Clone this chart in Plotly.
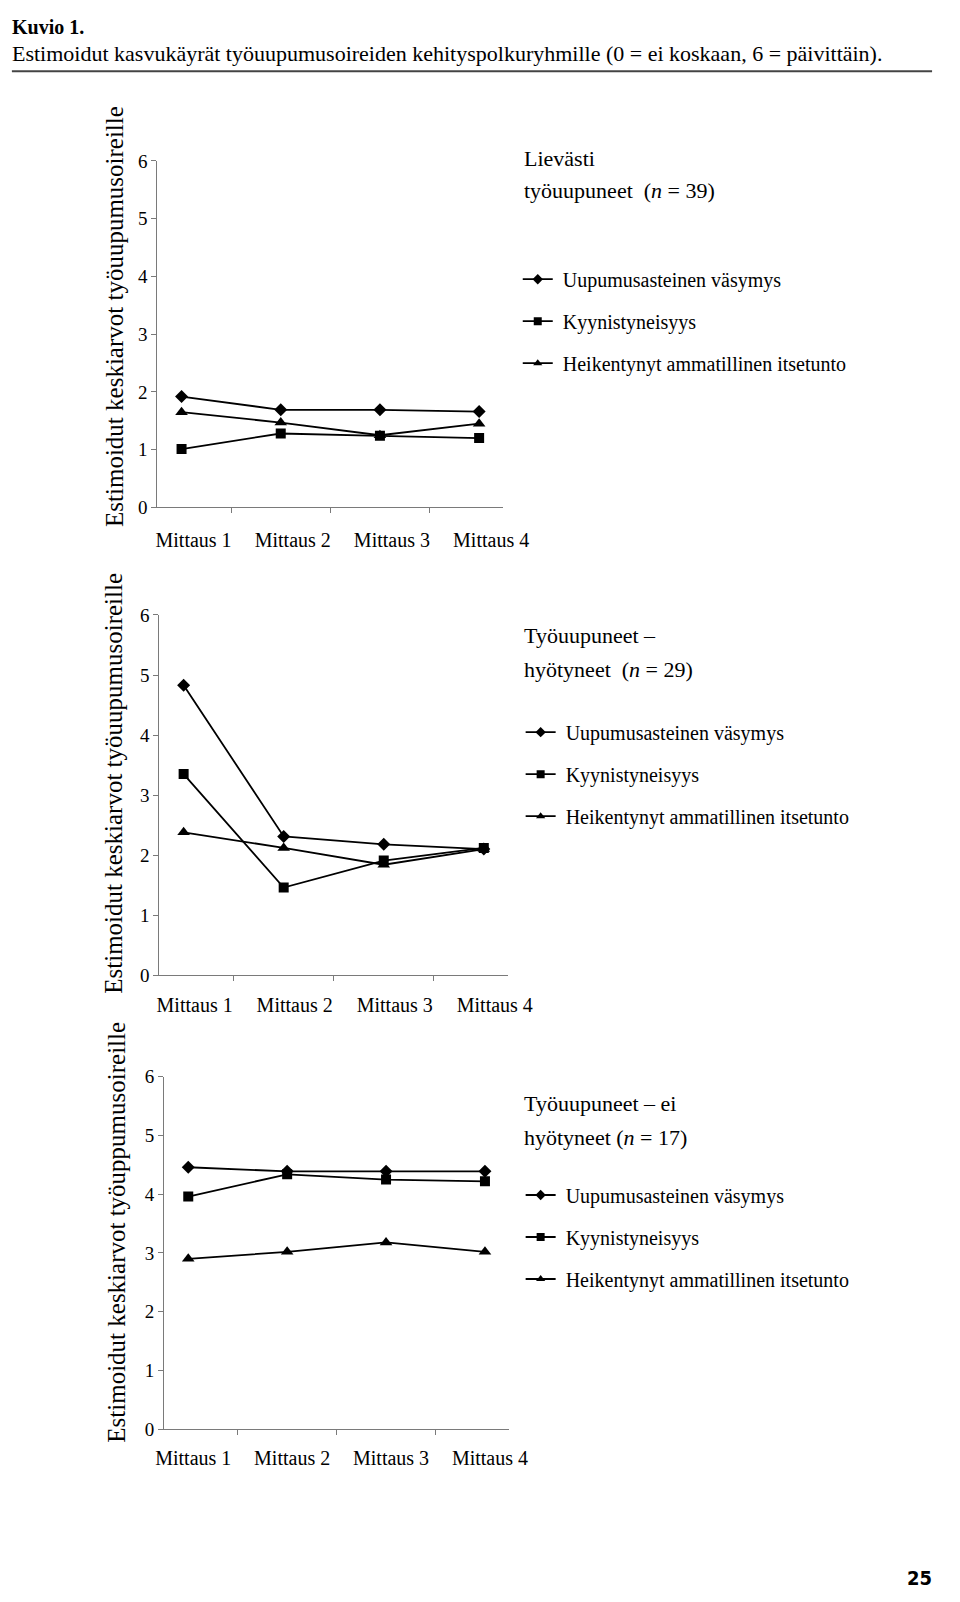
import plotly.graph_objects as go

W, H = 960, 1602

categories = ["Mittaus 1", "Mittaus 2", "Mittaus 3", "Mittaus 4"]
series_names = ["Uupumusasteinen väsymys", "Kyynistyneisyys", "Heikentynyt ammatillinen itsetunto"]

# Panel 1: Lievästi työuupuneet (n = 39)
p1_vasymys = [1.92, 1.69, 1.69, 1.66]
p1_kyyn = [1.01, 1.28, 1.24, 1.20]
p1_itsetunto = [1.65, 1.47, 1.25, 1.45]

# Panel 2: Työuupuneet – hyötyneet (n = 29)
p2_vasymys = [4.83, 2.31, 2.18, 2.10]
p2_kyyn = [3.35, 1.46, 1.91, 2.12]
p2_itsetunto = [2.38, 2.12, 1.84, 2.10]

# Panel 3: Työuupuneet – ei hyötyneet (n = 17)
p3_vasymys = [4.46, 4.39, 4.39, 4.39]
p3_kyyn = [3.96, 4.34, 4.25, 4.22]
p3_itsetunto = [2.90, 3.02, 3.18, 3.02]

y_ticks = [0, 1, 2, 3, 4, 5, 6]

panel_titles = [
    ["Lievästi", "työuupuneet  (<i>n</i> = 39)"],
    ["Työuupuneet –", "hyötyneet  (<i>n</i> = 29)"],
    ["Työuupuneet – ei", "hyötyneet (<i>n</i> = 17)"],
]
y_titles = [
    "Estimoidut keskiarvot työuupumusoireille",
    "Estimoidut keskiarvot työuupumusoireille",
    "Estimoidut keskiarvot työuppumusoireille",
]
fig_title = "Kuvio 1."
fig_subtitle = "Estimoidut kasvukäyrät työuupumusoireiden kehityspolkuryhmille (0 = ei koskaan, 6 = päivittäin)."
page_number = "25"

panels = [
    [p1_vasymys, p1_kyyn, p1_itsetunto],
    [p2_vasymys, p2_kyyn, p2_itsetunto],
    [p3_vasymys, p3_kyyn, p3_itsetunto],
]

# layout geometry in pixels (left, right, top, bottom)
boxes = [(154, 513, 153, 504), (156, 518, 613, 978), (161, 519, 1081, 1438)]
label_standoff = [15, 12, 11]
label_shift = [12, 11, 5]
ytitle_pos = [(110, 310), (109, 784), (112, 1238)]
title_pos = [(532, 150, 183), (532, 634, 668), (532, 1108, 1142)]
legend_pos = [(528, 253), (531, 712), (531, 1181)]

symbols = ["diamond", "square", "triangle-up"]
msizes = [10, 10, 11]
SERIF = "Liberation Serif"
NB = "\u00a0"

def px(x):
    return x / W

def py(y):
    return 1 - y / H

fig = go.Figure()
annotations = []
layout = {}
for i, (vals, box) in enumerate(zip(panels, boxes)):
    n = i + 1
    xa = "x" if n == 1 else f"x{n}"
    ya = "y" if n == 1 else f"y{n}"
    lg = "legend" if n == 1 else f"legend{n}"
    for j, v in enumerate(vals):
        fig.add_trace(go.Scatter(
            x=categories, y=v, mode="lines+markers", name=series_names[j],
            xaxis=xa, yaxis=ya, showlegend=False,
            line=dict(color="black", width=1.8),
            marker=dict(symbol=symbols[j], size=msizes[j], color="black"),
        ))
    # legend entries (smaller symbols, as in the original key)
    for j in range(3):
        fig.add_trace(go.Scatter(
            x=[None], y=[None], mode="lines+markers", name=NB + series_names[j],
            xaxis=xa, yaxis=ya, legend=lg, legendgroup=f"g{n}{j}",
            line=dict(color="black", width=1.8),
            marker=dict(symbol=symbols[j], size=8, color="black"),
            hoverinfo="skip",
        ))
    l, r, t, b = box
    layout[f"xaxis{'' if n == 1 else n}"] = dict(
        domain=[px(l), px(r)], anchor=ya, type="category",
        tickson="boundaries", ticks="outside", ticklen=5, tickcolor="#7a7a7a",
        showline=True, linecolor="#7a7a7a", linewidth=1, showgrid=False,
        zeroline=False, tickfont=dict(family=SERIF, size=20, color="black"),
        ticklabelstandoff=label_standoff[i], ticklabelshift=label_shift[i],
        fixedrange=True,
    )
    layout[f"yaxis{'' if n == 1 else n}"] = dict(
        domain=[py(b), py(t)], anchor=xa, range=[0, 6], tickvals=y_ticks,
        ticks="outside", ticklen=5, tickcolor="#7a7a7a",
        showline=True, linecolor="#7a7a7a", linewidth=1, showgrid=False,
        zeroline=False, tickfont=dict(family=SERIF, size=19, color="black"),
        fixedrange=True,
    )
    lx, ly = legend_pos[i]
    layout[lg] = dict(
        x=px(lx), y=py(ly), xanchor="left", yanchor="top",
        font=dict(family=SERIF, size=20, color="black"),
        bgcolor="rgba(0,0,0,0)", borderwidth=0, tracegroupgap=13,
        itemclick=False, itemdoubleclick=False,
    )
    tx, ty1, ty2 = title_pos[i]
    for txt, yy in zip(panel_titles[i], (ty1, ty2)):
        annotations.append(dict(
            text=txt, x=px(tx), y=py(yy), xref="paper", yref="paper",
            xanchor="left", yanchor="middle", showarrow=False,
            font=dict(family=SERIF, size=22, color="black"),
        ))
    yx, yy = ytitle_pos[i]
    annotations.append(dict(
        text=y_titles[i], x=px(yx), y=py(yy), xref="paper", yref="paper",
        xanchor="center", yanchor="middle", textangle=-90, showarrow=False,
        font=dict(family=SERIF, size=25, color="black"),
    ))

annotations.append(dict(
    text=f"<b>{fig_title}</b>", x=px(1), y=py(17), xref="paper", yref="paper",
    xanchor="left", yanchor="middle", showarrow=False,
    font=dict(family=SERIF, size=20, color="black"),
))
annotations.append(dict(
    text=fig_subtitle, x=px(1), y=py(44), xref="paper", yref="paper",
    xanchor="left", yanchor="middle", showarrow=False,
    font=dict(family=SERIF, size=22, color="black"),
))
annotations.append(dict(
    text=f"<b>{page_number}</b>", x=px(960), y=py(1589), xref="paper", yref="paper",
    xanchor="right", yanchor="middle", showarrow=False,
    font=dict(family="Liberation Sans Narrow, DejaVu Sans Condensed", size=20, color="black"),
))

fig.update_layout(
    width=W, height=H, margin=dict(l=0, r=0, t=0, b=0),
    paper_bgcolor="white", plot_bgcolor="white",
    annotations=annotations,
    shapes=[dict(type="line", xref="paper", yref="paper",
                 x0=px(3), x1=px(958), y0=py(62), y1=py(62),
                 line=dict(color="#444", width=2))],
    **layout,
)

fig.write_html(
    "out.html",
    config={"displayModeBar": False},
    post_script="document.body.style.margin='0px';document.documentElement.style.overflow='hidden';",
)
